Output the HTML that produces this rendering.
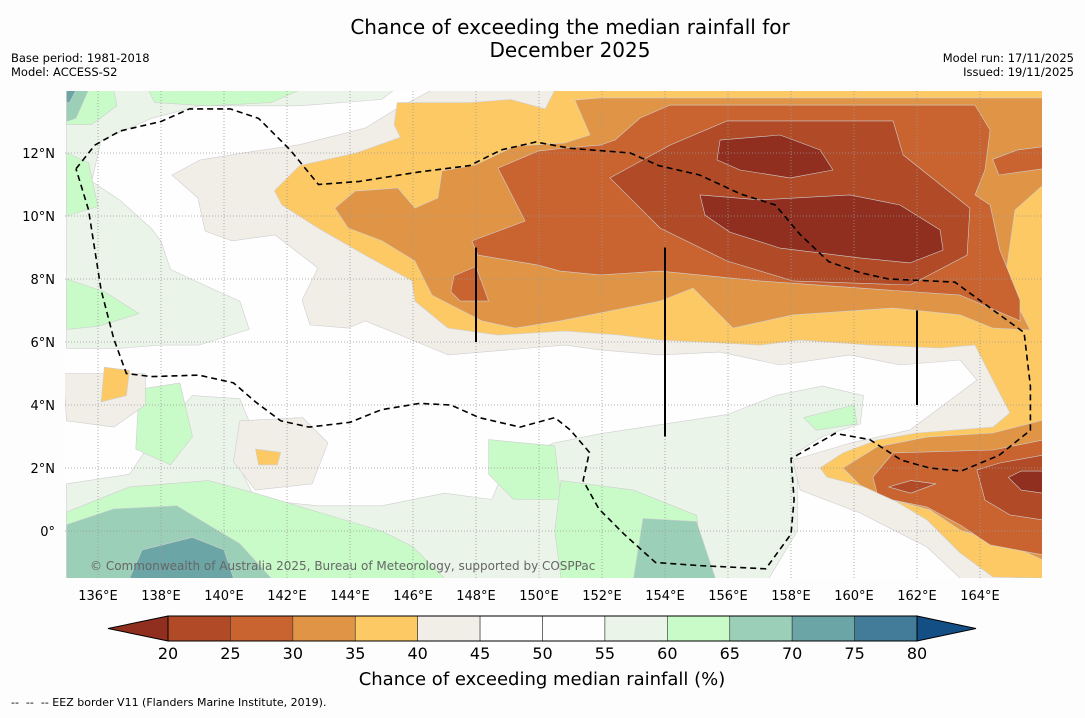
<!DOCTYPE html>
<html><head><meta charset="utf-8">
<style>
html,body{margin:0;padding:0;background:#fdfdfd;}
body{width:1085px;height:713px;overflow:hidden;font-family:"Liberation Sans","DejaVu Sans",sans-serif;}
svg text{font-family:"DejaVu Sans","Liberation Sans",sans-serif;}
</style></head>
<body>
<svg id="chart" width="1085" height="713" xmlns="http://www.w3.org/2000/svg">
<text x="570" y="34" font-size="20" text-anchor="middle" fill="#000">Chance of exceeding the median rainfall for</text>
<text x="570" y="57" font-size="20" text-anchor="middle" fill="#000">December 2025</text>
<text x="11" y="62" font-size="11.5">Base period: 1981-2018</text>
<text x="11" y="76" font-size="11.5">Model: ACCESS-S2</text>
<text x="1074" y="62" font-size="11.5" text-anchor="end">Model run: 17/11/2025</text>
<text x="1074" y="76" font-size="11.5" text-anchor="end">Issued: 19/11/2025</text>
<defs><clipPath id="mapclip"><rect x="65" y="91" width="977" height="487"/></clipPath></defs>
<rect x="65" y="91" width="977" height="487" fill="#fefefe"/>
<g id="regions" clip-path="url(#mapclip)"></g>
<g id="grid" clip-path="url(#mapclip)"></g>
<g id="overlay" clip-path="url(#mapclip)"></g>
<g id="axes"></g>
<text x="90" y="570" font-size="12" fill="#666">© Commonwealth of Australia 2025, Bureau of Meteorology, supported by COSPPac</text>
<g id="colorbar"></g>
<text x="542" y="685" font-size="18" text-anchor="middle">Chance of exceeding median rainfall (%)</text>
<text x="11" y="706" font-size="11" xml:space="preserve">--  --  -- EEZ border V11 (Flanders Marine Institute, 2019).</text>
</svg>
<script>
function X(lon){return 98+(lon-136)*31.5;}
function Y(lat){return 531-lat*31.5;}
const NS='http://www.w3.org/2000/svg';

const levelEdges=[20,25,30,35,40,45,50,55,60,65,70,75,80];
const levelColors=['#b14b27','#c96431','#e09446','#fdc964','#f1ede7','#fefefe','#fefefe','#eaf4e8','#c9fbc8','#9bcfb8','#6ca5a6','#437c98'];
const lowColor='#902e1f', highColor='#134e85';
const cbLabels=['20','25','30','35','40','45','50','55','60','65','70','75','80'];

const regionLevels=[
 'l55','l55',
 'l60','l60','l60','l60','l60','l60','l60','l60','l60',
 'l65','l65','l65','l70','l70',
 'l40','l40','l40',
 'l35','l35','l35',
 'l30','l30',
 'l25','l25','l25','l25',
 'l20','l20','l20',
 'lt20','lt20','lt20'
];
const regionShapes=[
 [[135,14],[145.4,14],[145,13.7],[142.4,13.5],[139.2,13.5],[137.7,13.1],[136.1,12.4],[135.8,11.1],[136.7,10.5],[137.7,9.6],[138,9.2],[138.3,8.3],[139.6,7.7],[140.5,7.3],[140.8,6.4],[139.2,5.9],[138,5.9],[136.7,5.8],[135,5.8]],
 [[135,1.5],[137,1.8],[137.8,3],[139,4.3],[140.5,4.2],[141,3],[140.5,2],[141,1],[143,0.8],[145,0.8],[147,1.2],[148.5,1],[149,2.2],[150.5,2.8],[152,3.1],[154,3.4],[156,3.7],[157.5,4.3],[159,4.6],[160.3,4.3],[160.2,3.4],[159,3],[158.2,2.5],[158.2,0],[157.3,-1.5],[135,-1.5]],
 [[137.6,14],[142.4,14],[141.5,13.6],[139.5,13.5],[137.8,13.6]],
 [[135,14],[136.5,14],[136.6,13.5],[135.8,12.9],[135,12.9]],
 [[135,12],[135.7,11.7],[136,10.3],[135,10]],
 [[135,8],[136.2,7.6],[137.3,6.9],[136,6.5],[135,6.4]],
 [[135,0.6],[137,1.4],[139.5,1.6],[141,1.2],[143,0.6],[145,0],[146,-0.5],[147,-1.5],[135,-1.5]],
 [[148.4,2.9],[150.5,2.7],[150.7,1],[149.2,1],[148.4,1.8]],
 [[150.7,1.6],[153,1.3],[155,0.5],[155.3,-1.5],[150.7,-1.5],[150.5,0]],
 [[137.3,4.5],[138.6,4.7],[139,3],[138.3,2.1],[137.2,2.6]],
 [[158.4,3.6],[160,4],[160.1,3.4],[158.8,3.2]],
 [[135,0.2],[136.5,0.7],[138.5,0.8],[139.5,0.2],[140.5,-0.4],[141.5,-1.5],[135,-1.5]],
 [[153.3,0.4],[155,0.3],[155.6,-1.5],[153,-1.5]],
 [[135,14],[135.7,14],[135.3,13.1],[135,13]],
 [[137.4,-0.6],[139,-0.2],[140,-0.6],[140.3,-1.5],[137,-1.5]],
 [[135,14],[135.3,14],[135.1,13.6],[135,13.6]],
 [[138.35,11.3],[139.24,11.78],[140.98,12.06],[142.35,12.25],[144.48,12.79],[145.52,13.43],[146.6,14],[166,14],[166,-1.5],[163.37,-1.5],[162.32,-0.51],[160.19,0.57],[158.29,1.3],[158.06,2.25],[159.87,2.79],[161.78,3.21],[163.9,4.79],[163.37,5.43],[161.46,5.27],[159.87,5.59],[157.65,5.27],[155.75,5.68],[153.84,5.59],[151.94,5.75],[150.83,5.9],[147.11,5.59],[146.06,6.03],[144.48,6.67],[143.94,6.44],[142.73,6.54],[142.48,7.33],[142.98,8.35],[141.62,9.4],[140.25,9.21],[139.4,9.52],[139.17,10.57]],
 [[140.5,3.5],[142.5,3.6],[143.3,2.8],[142.8,1.5],[141,1.3],[140.3,2.2]],
 [[134.9,5],[137.5,5],[137.5,4],[136.5,3.3],[135,3.5]],
 [[141.6,10.8],[142.4,11.6],[144.2,12.0],[145.6,12.5],[145.4,12.9],[145.5,13.6],[147.8,13.6],[149.1,13.7],[150.2,13.4],[150.5,14],[166,14],[166,-1.5],[164.41,-1.46],[163.37,-0.7],[162.32,0.35],[160.73,1.3],[159.14,1.71],[158.92,2.0],[159.65,2.48],[160.73,2.89],[162.0,3.11],[164.41,3.3],[164.95,3.75],[164.41,4.79],[163.84,5.9],[162.73,5.81],[160.51,5.9],[158.29,6.06],[157.02,5.9],[155.11,6.0],[153.84,6.06],[152.57,6.22],[150.83,6.35],[148.7,6.22],[147.11,6.44],[146.06,7.3],[145.97,7.94],[144.48,8.76],[142.98,9.62],[141.84,10.35]],
 [[136.2,5.2],[137,5.1],[136.9,4.3],[136.1,4.1]],
 [[141,2.6],[141.8,2.5],[141.7,2.1],[141.1,2.1]],
 [[143.52,10.25],[144.16,10.79],[145.52,10.89],[146.06,10.25],[146.79,10.57],[146.92,11.43],[147.97,11.62],[149.24,12.22],[150.83,12.32],[151.62,12.57],[151.14,13.68],[151.94,13.75],[166,13.75],[166,10.98],[165.11,10.19],[164.79,7.97],[165.59,6.38],[164.41,6.44],[163.37,6.86],[161.24,7.08],[158.06,6.86],[156.16,6.44],[154.89,7.71],[153.84,7.3],[150.67,6.67],[149.24,6.44],[148.19,6.67],[146.6,7.49],[146.06,8.57],[145.02,9.21],[143.94,9.62]],
 [[159.65,2.0],[160.73,2.67],[162.32,2.98],[164.41,3.11],[166,3.52],[166,-0.92],[164.95,-0.44],[163.37,0.03],[162.41,0.67],[161.24,0.98],[160.19,1.46]],
 [[148.7,11.52],[149.97,12.06],[150.83,12.16],[151.94,12.25],[152.41,12.41],[153.21,13.11],[154.16,13.52],[163.84,13.52],[164.32,12.73],[164.16,11.46],[163.84,10.67],[164.32,10.35],[164.63,8.92],[165.27,7.33],[165.27,6.67],[163.37,7.49],[160.19,7.71],[157.02,7.94],[153.84,8.25],[151.94,8.13],[150.67,8.25],[149.97,8.44],[148.06,8.76],[147.87,9.21],[149.56,9.84]],
 [[147.3,8.1],[148.0,8.4],[148.4,7.3],[147.5,7.3],[147.2,7.6]],
 [[164.4,11.8],[165.2,12.1],[166,12.2],[166,11.5],[164.6,11.3]],
 [[160.6,1.71],[161.24,2.48],[164.41,2.57],[166,2.89],[166,-0.76],[164.32,-0.44],[163.37,0.19],[162.32,0.76],[161.24,0.98],[160.73,1.21]],
 [[152.25,11.21],[154.16,12.25],[155.97,13.02],[161.24,13.02],[161.56,11.94],[163.68,10.25],[163.59,8.76],[161.78,7.81],[158.06,7.94],[155.97,8.57],[153.84,9.62]],
 [[163.9,1.94],[164.63,2.16],[166,2.41],[166,0.35],[164.95,0.51],[164.16,0.98]],
 [[161.1,1.4],[161.8,1.6],[162.6,1.5],[161.8,1.2]],
 [[155.75,12.41],[157.65,12.57],[158.92,12.1],[159.33,11.46],[157.97,11.21],[156.38,11.46],[155.65,11.78]],
 [[155.11,10.67],[157.02,10.51],[159.87,10.67],[161.46,10.35],[162.73,9.56],[162.83,8.92],[161.78,8.51],[160.19,8.67],[157.65,8.98],[156.06,9.49],[155.27,10.03]],
 [[164.9,1.7],[165.3,1.9],[166,1.9],[166,1.2],[165.3,1.3]]
];
const colorKey={l20:levelColors[0],l25:levelColors[1],l30:levelColors[2],l35:levelColors[3],l40:levelColors[4],l55:levelColors[7],l60:levelColors[8],l65:levelColors[9],l70:levelColors[10],lt20:lowColor};

const eezLon=[135.3,135.9,136.7,138,138.9,140.2,141.1,142.1,143,144.3,146.2,147.8,148.8,149.9,151,152.9,153.8,155.1,156.4,157.5,158.3,159.2,160.2,161.1,163.2,164.3,165.4,165.6,165.6,164.6,163.4,162.4,161.5,160.5,159.4,158,158.1,158,157.2,155.1,153.7,152.7,151.9,151.4,151.6,151,150.5,149.4,148.1,147.2,146.2,145,144,142.7,141.8,141,140.3,139.2,137.7,136.9,136.5,136.1,135.7,135.3];
const eezLat=[11.5,12.25,12.7,13,13.4,13.4,13.1,12.1,11,11.1,11.4,11.6,12.1,12.35,12.15,12,11.6,11.3,10.7,10.35,9.4,8.55,8.2,8,7.9,7.1,6.3,4.6,3.2,2.4,1.9,2,2.25,2.9,3.1,2.3,1,-0.1,-1.2,-1.1,-1,-0.1,0.7,1.6,2.5,3.2,3.6,3.3,3.6,4,4.05,3.85,3.45,3.3,3.5,4.1,4.7,4.95,4.9,5,6.1,7.65,10.2,11.5];

const segLon=[148,154,162];
const segLatFrom=[6,3,4];
const segLatTo=[9,9,7];

const lonTicks=[136,138,140,142,144,146,148,150,152,154,156,158,160,162,164];
const latTicks=[0,2,4,6,8,10,12];
const latTickLabels=['0°','2°N','4°N','6°N','8°N','10°N','12°N'];

function el(tag,attrs,parent){const e=document.createElementNS(NS,tag);for(const k in attrs)e.setAttribute(k,attrs[k]);parent.appendChild(e);return e;}
const reg=document.getElementById('regions');
regionShapes.forEach((poly,i)=>{
  const d='M'+poly.map(p=>X(p[0]).toFixed(1)+','+Y(p[1]).toFixed(1)).join('L')+'Z';
  const p=el('path',{d:d,fill:colorKey[regionLevels[i]],stroke:'#cfcfcf','stroke-width':0.6,'stroke-linejoin':'round'},reg);
  
  
});
const grid=document.getElementById('grid');
lonTicks.forEach(l=>{const g=el('line',{x1:X(l),x2:X(l),y1:91,y2:578,stroke:'#999','stroke-width':0.8,'stroke-dasharray':'1,2'},grid);
  
  });
latTicks.forEach(l=>{const g=el('line',{x1:65,x2:1042,y1:Y(l),y2:Y(l),stroke:'#999','stroke-width':0.8,'stroke-dasharray':'1,2'},grid);
  
  });
const ov=document.getElementById('overlay');
const eez=el('path',{d:'M'+eezLon.map((l,i)=>X(l).toFixed(1)+','+Y(eezLat[i]).toFixed(1)).join('L'),fill:'none',stroke:'#000','stroke-width':1.6,'stroke-dasharray':'6,4'},ov);


segLon.forEach((l,i)=>{const s=el('line',{x1:X(l),x2:X(l),y1:Y(segLatTo[i]),y2:Y(segLatFrom[i]),stroke:'#000','stroke-width':2},ov);
  
  });
const ax=document.getElementById('axes');
lonTicks.forEach(l=>{const t=el('text',{x:X(l),y:600,'font-size':13,'text-anchor':'middle'},ax);t.textContent=l+'°E';
  
  });
latTicks.forEach((l,i)=>{const t=el('text',{x:55,y:Y(l)+5,'font-size':13,'text-anchor':'end'},ax);t.textContent=latTickLabels[i];
  
  });
const cb=document.getElementById('colorbar');
const cbX0=168,cbX1=917,cbY=616,cbH=25;
function CX(v){return cbX0+(v-20)/60*(cbX1-cbX0);}
const lt=el('polygon',{points:`108,${cbY+cbH/2} ${cbX0},${cbY} ${cbX0},${cbY+cbH}`,fill:lowColor,stroke:'#000','stroke-width':1},cb);


const rt=el('polygon',{points:`976,${cbY+cbH/2} ${cbX1},${cbY} ${cbX1},${cbY+cbH}`,fill:highColor,stroke:'#000','stroke-width':1},cb);


levelColors.forEach((c,i)=>{const r=el('rect',{x:CX(levelEdges[i]),y:cbY,width:CX(levelEdges[i+1])-CX(levelEdges[i]),height:cbH,fill:c,stroke:'#333','stroke-width':0.6},cb);
  
  });
el('rect',{x:cbX0,y:cbY,width:cbX1-cbX0,height:cbH,fill:'none',stroke:'#000','stroke-width':1},cb);
cbLabels.forEach((s,i)=>{const t=el('text',{x:CX(levelEdges[i]),y:659,'font-size':16,'text-anchor':'middle'},cb);t.textContent=s;
  
  });
</script>
</body></html>
